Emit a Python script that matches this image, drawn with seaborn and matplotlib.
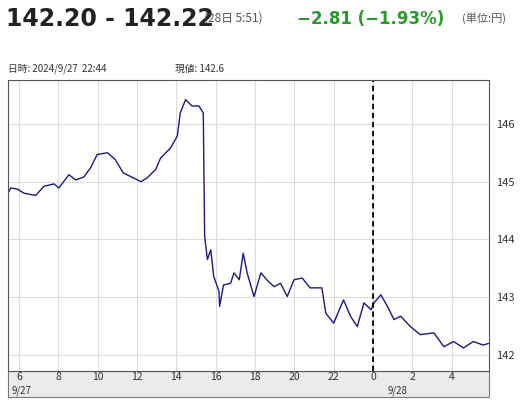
import matplotlib
matplotlib.use("Agg")
import matplotlib.pyplot as plt
from matplotlib.patches import Rectangle
import seaborn as sns
import pandas as pd

# hours since 0:00 on 9/27 (24 = 0:00 on 9/28)
hours = [5.44, 5.58, 5.92, 6.25, 6.85, 7.27, 7.78, 8.03, 8.54, 8.88, 9.3, 9.64, 9.98,
         10.5, 10.9, 11.3, 11.85, 12.2, 12.5, 12.95, 13.2, 13.7, 14.05, 14.2, 14.47,
         14.8, 15.15, 15.37, 15.44, 15.58, 15.75, 15.9, 16.17, 16.2, 16.4, 16.76, 16.93,
         17.2, 17.4, 17.6, 17.95, 18.3, 18.6, 18.97, 19.3, 19.64, 19.98, 20.4, 20.8,
         21.4, 21.6, 22.0, 22.5, 22.87, 23.2, 23.54, 23.9, 24.05, 24.4, 24.73, 25.07,
         25.4, 25.9, 26.4, 27.1, 27.6, 28.1, 28.6, 29.1, 29.6, 29.9]
price = [144.80, 144.89, 144.87, 144.80, 144.76, 144.92, 144.96, 144.89, 145.12, 145.03,
         145.08, 145.24, 145.47, 145.50, 145.38, 145.15, 145.06, 145.00, 145.06, 145.21,
         145.41, 145.58, 145.79, 146.19, 146.42, 146.31, 146.31, 146.19, 144.05, 143.65,
         143.82, 143.36, 143.10, 142.84, 143.21, 143.24, 143.42, 143.30, 143.76, 143.42,
         143.01, 143.42, 143.30, 143.18, 143.24, 143.01, 143.30, 143.33, 143.16, 143.16,
         142.72, 142.55, 142.95, 142.66, 142.49, 142.90, 142.78, 142.90, 143.04, 142.84,
         142.61, 142.67, 142.49, 142.35, 142.38, 142.14, 142.23, 142.12, 142.23, 142.17,
         142.20]
x_ticks = [6, 8, 10, 12, 14, 16, 18, 20, 22, 24, 26, 28]
x_labels = ["6", "8", "10", "12", "14", "16", "18", "20", "22", "0", "2", "4"]
y_ticks = [142, 143, 144, 145, 146]

df = pd.DataFrame({"hour": hours, "price": price})

sns.set_style("white")
plt.rcParams["font.family"] = ["Noto Sans CJK JP", "DejaVu Sans"]

fig = plt.figure(figsize=(5.31, 4.0), dpi=100)
ax = fig.add_axes([0.015, 0.0725, 0.906, 0.7275])

sns.lineplot(data=df, x="hour", y="price", ax=ax, color="#1a1a80", linewidth=1.0)
ax.axvline(24, color="black", linestyle=(0, (3, 2)), linewidth=1.3)

ax.set_xlim(5.44, 29.9)
ax.set_ylim(141.72, 146.76)
ax.set_xticks(x_ticks)
ax.set_xticklabels(x_labels, fontsize=7.5, color="#333333")
ax.set_yticks(y_ticks)
ax.set_yticklabels([str(v) for v in y_ticks], fontsize=8, color="#333333")
ax.yaxis.tick_right()
ax.tick_params(axis="x", length=0, pad=1)
ax.tick_params(axis="y", length=0, pad=5)
ax.set_xlabel("")
ax.set_ylabel("")
ax.grid(True, color="#dddddd", linewidth=0.8)
for s in ax.spines.values():
    s.set_color("#555555")
    s.set_linewidth(0.8)

# gray band behind x tick labels
fig.patches.append(Rectangle((0.015, 0.008), 0.906, 0.0645, transform=fig.transFigure,
                             facecolor="#ebebeb", edgecolor="#777777", linewidth=0.8, zorder=-1))
fig.text(0.022, 0.009, "9/27", fontsize=7, color="#333333", va="bottom")
fig.text(0.73, 0.009, "9/28", fontsize=7, color="#333333", va="bottom")

# header
fig.text(0.012, 0.935, "142.20 - 142.22", fontsize=17, fontweight="bold", color="#222222",
         family=["DejaVu Sans"])
fig.text(0.385, 0.945, "(28日 5:51)", fontsize=8.5, color="#555555")
fig.text(0.56, 0.94, "\u22122.81 (\u22121.93%)", fontsize=12, fontweight="bold", color="#2a9a2a",
         family=["DejaVu Sans"])
fig.text(0.87, 0.945, "(単位:円)", fontsize=8, color="#555555")
fig.text(0.015, 0.82, "日時: 2024/9/27  22:44", fontsize=7, color="#333333")
fig.text(0.33, 0.82, "現値: 142.6", fontsize=7, color="#333333")

fig.savefig("out.png", dpi=100)
